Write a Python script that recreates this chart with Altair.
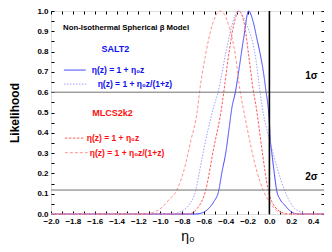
import altair as alt
import pandas as pd

# ---- curves (eta0, likelihood) ----
salt2_lin_eta = [-2.0, -0.68, -0.62, -0.56, -0.51, -0.464, -0.434, -0.40, -0.373, -0.343, -0.312, -0.282,
                 -0.236, -0.19, -0.15, -0.115, -0.085, -0.055, -0.03, -0.012, 0.0, 0.008, 0.021, 0.045,
                 0.067, 0.10, 0.14, 0.18, 0.23, 0.28, 0.5]
salt2_lin_L = [0.0, 0.0, 0.005, 0.025, 0.06, 0.115, 0.208, 0.30, 0.405, 0.525, 0.60, 0.70,
               0.865, 1.0, 0.95, 0.865, 0.79, 0.70, 0.60, 0.53, 0.45, 0.37, 0.307, 0.20,
               0.115, 0.07, 0.044, 0.02, 0.003, 0.0, 0.0]

salt2_rat_eta = [-2.0, -0.90, -0.80, -0.73, -0.675, -0.64, -0.60, -0.56, -0.509, -0.47, -0.403, -0.343,
                 -0.288, -0.206, -0.13, -0.085, -0.064, -0.02, 0.021, 0.082, 0.14, 0.23, 0.30, 0.36, 0.5]
salt2_rat_L = [0.0, 0.0, 0.015, 0.05, 0.115, 0.21, 0.32, 0.42, 0.53, 0.60, 0.783, 0.93,
               1.0, 0.93, 0.783, 0.60, 0.52, 0.41, 0.324, 0.208, 0.115, 0.028, 0.008, 0.0, 0.0]

mlcs_lin_eta = [-2.0, -0.74, -0.66, -0.585, -0.51, -0.434, -0.418, -0.373, -0.327, -0.28,
                -0.227, -0.19, -0.145, -0.124, -0.07, -0.01, 0.05, 0.14, 0.2, 0.5]
mlcs_lin_L = [0.0, 0.0, 0.028, 0.115, 0.324, 0.537, 0.60, 0.783, 0.93, 1.0,
              0.93, 0.783, 0.60, 0.537, 0.324, 0.115, 0.036, 0.003, 0.0, 0.0]

mlcs_rat_eta = [-2.0, -1.15, -1.05, -0.98, -0.92, -0.85, -0.78, -0.72, -0.66, -0.64, -0.585, -0.524,
                -0.448, -0.373, -0.312, -0.267, -0.236, -0.18, -0.12, -0.055, 0.0, 0.05, 0.1, 0.15, 0.5]
mlcs_rat_L = [0.0, 0.0, 0.01, 0.035, 0.07, 0.115, 0.22, 0.36, 0.51, 0.60, 0.783, 0.93,
              1.0, 0.93, 0.783, 0.60, 0.512, 0.36, 0.22, 0.115, 0.06, 0.025, 0.008, 0.0, 0.0]

series_names = ["salt2_lin", "salt2_rat", "mlcs_lin", "mlcs_rat"]
series_colors = ["#4040ff", "#a0a0ff", "#ff5a5a", "#ff9090"]
series_dashes = [[1, 0], [1.5, 1.5], [2.5, 1.5], [3, 2]]

legend_labels = ["η(z) = 1 + η₀z", "η(z) = 1 + η₀z/(1+z)", "η(z) = 1 + η₀z", "η(z) = 1 + η₀z/(1+z)"]
legend_text_colors = ["#1010f0", "#1010f0", "#ff1010", "#ff1010"]
legend_line_x0 = [-1.882, -1.882, -1.873, -1.873]
legend_line_x1 = [-1.682, -1.664, -1.69, -1.664]
legend_text_x = [-1.627, -1.573, -1.673, -1.645]
legend_y = [0.709, 0.640, 0.374, 0.302]

sigma_levels = [0.6, 0.118]
sigma_labels = ["1σ", "2σ"]
sigma_label_x = [0.385, 0.385]
sigma_label_y = [0.68, 0.182]

x_ticks = [round(-2.0 + 0.1 * i, 1) for i in range(26)]
y_ticks = [round(0.05 * i, 2) for i in range(21)]

FONT = "Liberation Sans"

rows = []
for k, (name, etas, Ls) in enumerate([("salt2_lin", salt2_lin_eta, salt2_lin_L),
                                      ("salt2_rat", salt2_rat_eta, salt2_rat_L),
                                      ("mlcs_lin", mlcs_lin_eta, mlcs_lin_L),
                                      ("mlcs_rat", mlcs_rat_eta, mlcs_rat_L)]):
    for i, (e, l) in enumerate(zip(etas, Ls)):
        rows.append({"series": name, "eta": e, "L": l, "o": i, "col": series_colors[k]})
curves = pd.DataFrame(rows)

leg_lines = pd.DataFrame({"series": series_names, "eta": legend_line_x0, "eta2": legend_line_x1,
                          "L": legend_y, "col": series_colors})

leg_text = pd.DataFrame({"label": legend_labels, "eta": legend_text_x,
                         "L": legend_y, "tc": legend_text_colors})

xscale = alt.Scale(domain=[-2.0, 0.5], nice=False, zero=False)
yscale = alt.Scale(domain=[0.0, 1.0], nice=False)
dash = alt.StrokeDash("series:N", scale=alt.Scale(domain=series_names, range=series_dashes), legend=None)

x_axis = alt.Axis(values=x_ticks, orient="bottom", offset=-3, tickSize=3, domain=False, grid=False,
                  labelExpr="abs(round(datum.value*10)) % 2 == 0 ? format(datum.value, '.1f') : ''",
                  labelOverlap=False, labelFlush=False,
                  labelFont=FONT, labelFontWeight="bold", labelFontSize=8, labelPadding=3,
                  labelColor="black", tickColor="black",
                  title="η₀", titleFont=FONT, titleFontSize=14, titleFontWeight="normal", titlePadding=4)
y_axis = alt.Axis(values=y_ticks, orient="left", offset=-3, tickSize=3, domain=False, grid=False,
                  labelExpr="abs(round(datum.value*100)) % 10 == 0 ? format(datum.value, '.1f') : ''",
                  labelOverlap=False, labelFlush=False,
                  labelFont=FONT, labelFontWeight="bold", labelFontSize=8, labelPadding=3,
                  labelColor="black", tickColor="black",
                  title="Likelihood", titleFont=FONT, titleFontSize=12, titleFontWeight="bold", titlePadding=15)
x_top = alt.Axis(values=x_ticks, orient="top", offset=-3, tickSize=3, domain=False, grid=False,
                 labels=False, title=None, tickColor="black")
y_right = alt.Axis(values=y_ticks, orient="right", offset=-3, tickSize=3, domain=False, grid=False,
                   labels=False, title=None, tickColor="black")


def X(axis=None):
    return alt.X("eta:Q", scale=xscale, axis=axis)


def Y(axis=None):
    return alt.Y("L:Q", scale=yscale, axis=axis)


lines = alt.Chart(curves).mark_line(interpolate="monotone", strokeWidth=1.0).encode(
    x=X(x_axis), y=Y(y_axis),
    color=alt.Color("col:N", scale=None), strokeDash=dash, order="o:Q", detail="series:N")

hrules = alt.Chart(pd.DataFrame({"L": sigma_levels})).mark_rule(color="#707070", strokeWidth=1).encode(
    y=Y(y_right))
vrule = alt.Chart(pd.DataFrame({"eta": [0.0]})).mark_rule(color="black", strokeWidth=1.6).encode(
    x=X(x_top))

leg_line_layer = alt.Chart(leg_lines).mark_rule(strokeWidth=1.0).encode(
    x=X(), x2="eta2:Q", y=Y(), color=alt.Color("col:N", scale=None), strokeDash=dash)
leg_text_layer = alt.Chart(leg_text).mark_text(align="left", baseline="middle", font=FONT,
                                               fontWeight="bold", fontSize=8.5).encode(
    x=X(), y=Y(), text="label:N", color=alt.Color("tc:N", scale=None))

titles = pd.DataFrame({"t": ["Non-Isothermal Spherical β Model", "SALT2", "MLCS2k2"],
                       "eta": [-1.89, -1.41, -1.436], "L": [0.916, 0.813, 0.499],
                       "c": ["black", "#1010f0", "#ff1010"]})
title_main = alt.Chart(titles.iloc[[0]]).mark_text(align="left", baseline="middle", font=FONT,
                                                  fontWeight="bold", fontSize=7.8).encode(
    x=X(), y=Y(), text="t:N", color=alt.Color("c:N", scale=None))
title_sets = alt.Chart(titles.iloc[[1, 2]]).mark_text(align="center", baseline="middle", font=FONT,
                                                     fontWeight="bold", fontSize=9).encode(
    x=X(), y=Y(), text="t:N", color=alt.Color("c:N", scale=None))

sig_text = alt.Chart(pd.DataFrame({"t": sigma_labels, "eta": sigma_label_x, "L": sigma_label_y})).mark_text(
    align="center", baseline="middle", font=FONT, fontWeight="bold", fontSize=10, color="black").encode(
    x=X(), y=Y(), text="t:N")

chart = alt.layer(lines, hrules, vrule, leg_line_layer, leg_text_layer, title_main, title_sets, sig_text).properties(
    width=273, height=203,
    autosize=alt.AutoSizeParams(type="none"),
    padding={"left": 43, "top": 3, "right": 0, "bottom": 30},
).configure_view(stroke="black", strokeWidth=1).configure(background="white")

chart.save("out.html", embed_options={"renderer": "svg", "actions": False})
